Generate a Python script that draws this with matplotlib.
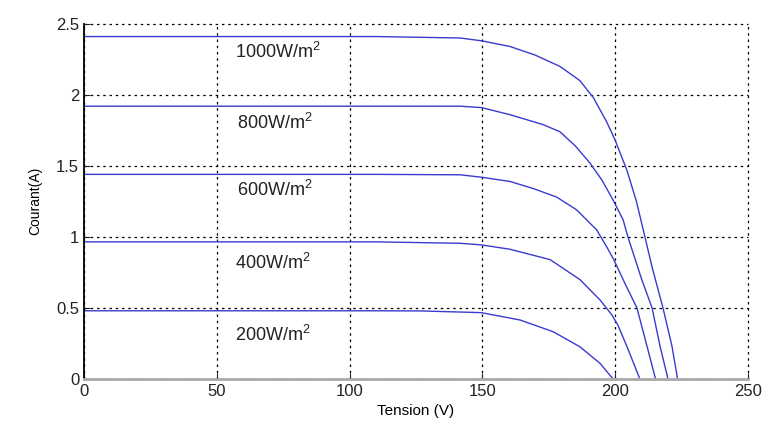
import matplotlib
matplotlib.use("Agg")
import matplotlib.pyplot as plt

plt.rcParams["font.family"] = ["Liberation Sans", "DejaVu Sans"]
plt.rcParams["mathtext.default"] = "regular"

# I-V curves: tension (V) and courant (A) per irradiance
v_1000 = [0, 110, 141.6, 149.7, 160.4, 169.8, 179.2, 186.7, 191.8, 196.8, 200, 204.4, 208, 211.2, 214, 218, 221.4, 223.5]
i_1000 = [2.41, 2.41, 2.40, 2.38, 2.34, 2.28, 2.20, 2.10, 1.98, 1.81, 1.68, 1.47, 1.25, 1.00, 0.78, 0.50, 0.23, 0.0]

v_800 = [0, 110, 141.6, 149.7, 160.4, 172.9, 179.2, 185, 190.5, 195, 199.2, 203, 204.8, 207.4, 210, 213.9, 216.9, 219.9]
i_800 = [1.92, 1.92, 1.92, 1.91, 1.86, 1.79, 1.74, 1.64, 1.52, 1.40, 1.26, 1.12, 1.00, 0.85, 0.70, 0.50, 0.23, 0.0]

v_600 = [0, 110, 141.6, 149.7, 160.4, 169.2, 178, 185.5, 193, 196.8, 199.2, 204, 208.2, 212, 215.2]
i_600 = [1.44, 1.44, 1.437, 1.42, 1.39, 1.34, 1.28, 1.19, 1.05, 0.93, 0.85, 0.66, 0.50, 0.23, 0.0]

v_400 = [0, 110, 141.6, 149.5, 160.4, 175.5, 186.7, 194.3, 198.8, 201, 204.4, 209.3]
i_400 = [0.965, 0.965, 0.955, 0.944, 0.913, 0.84, 0.70, 0.556, 0.45, 0.38, 0.23, 0.0]

v_200 = [0, 110, 126.5, 149.5, 164.2, 176.6, 186.7, 194.3, 199.2]
i_200 = [0.48, 0.48, 0.479, 0.467, 0.415, 0.333, 0.227, 0.11, 0.0]

curves = [(v_1000, i_1000), (v_800, i_800), (v_600, i_600), (v_400, i_400), (v_200, i_200)]

labels = ["1000W/m$^{2}$", "800W/m$^{2}$", "600W/m$^{2}$", "400W/m$^{2}$", "200W/m$^{2}$"]
label_v = [57, 57.5, 57.5, 57, 57]
label_i = [2.30, 1.80, 1.33, 0.82, 0.31]

x_ticks = [0, 50, 100, 150, 200, 250]
y_ticks = [0, 0.5, 1, 1.5, 2, 2.5]

fig = plt.figure(figsize=(7.64, 4.29), dpi=100)
ax = fig.add_axes([0.110, 0.1166, 0.869, 0.828])

for v, i in curves:
    ax.plot(v, i, color="#3a3ad0", linewidth=1.0)

for txt, x, y in zip(labels, label_v, label_i):
    ax.text(x, y, txt, fontsize=13, ha="left", va="center", color="#222222")

ax.set_xlim(0, 250)
ax.set_ylim(0, 2.5)
ax.set_xticks(x_ticks)
ax.set_yticks(y_ticks)
ax.set_xticklabels([str(t) for t in x_ticks])
ax.set_yticklabels(["0", "0.5", "1", "1.5", "2", "2.5"])
ax.tick_params(direction="in", length=4, labelsize=12, colors="#222222")
ax.grid(True, color="black", linestyle=(0, (2, 3)), linewidth=0.9)
for gl in ax.get_xgridlines() + ax.get_ygridlines():
    gl.set_clip_on(False)

ax.spines["top"].set_visible(False)
ax.spines["right"].set_visible(False)
ax.spines["left"].set_color("black")
ax.spines["left"].set_linewidth(1.3)
ax.spines["bottom"].set_color("#aaaaaa")
ax.spines["bottom"].set_linewidth(2)

ax.set_xlabel("Tension (V)", fontsize=11, labelpad=4)
ax.set_ylabel("Courant(A)", fontsize=10, labelpad=10)

fig.savefig("out.png", dpi=100)
